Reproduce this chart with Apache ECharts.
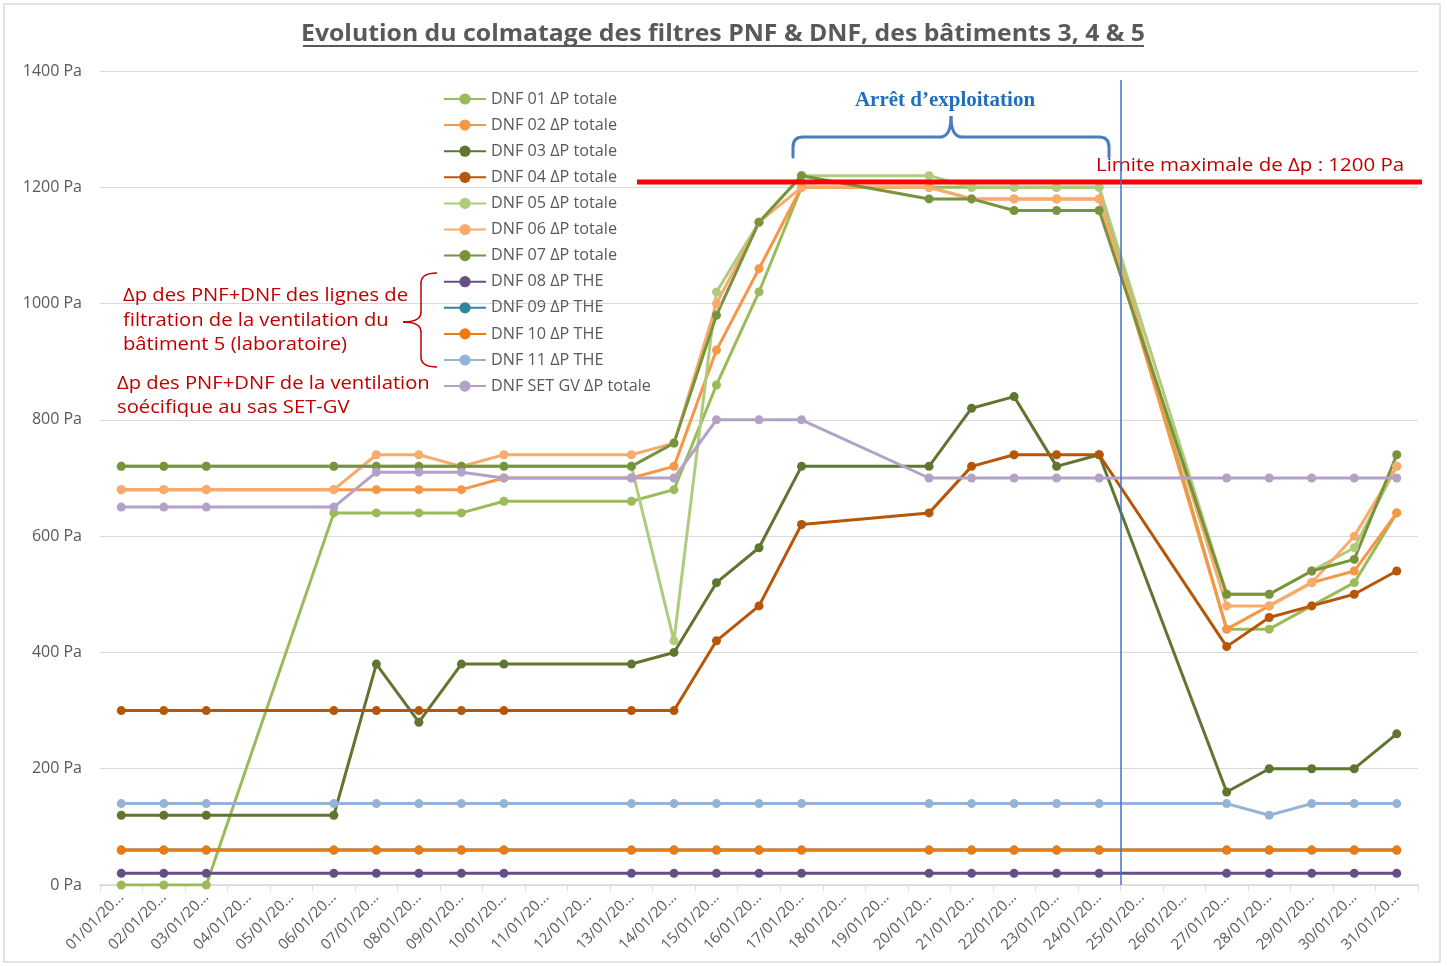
<!DOCTYPE html>
<html>
<head>
<meta charset="utf-8">
<script src="https://cdn.jsdelivr.net/npm/echarts@6/dist/echarts.min.js"></script>
<style>
html,body{margin:0;padding:0;background:#fff;}
#chart{width:1447px;height:966px;}
</style>
</head>
<body>
<div id="chart"></div>
<script>
const categories = ["01/01/20...","02/01/20...","03/01/20...","04/01/20...","05/01/20...","06/01/20...","07/01/20...","08/01/20...","09/01/20...","10/01/20...","11/01/20...","12/01/20...","13/01/20...","14/01/20...","15/01/20...","16/01/20...","17/01/20...","18/01/20...","19/01/20...","20/01/20...","21/01/20...","22/01/20...","23/01/20...","24/01/20...","25/01/20...","26/01/20...","27/01/20...","28/01/20...","29/01/20...","30/01/20...","31/01/20..."];
const n = null;
const dnf01 = [0,0,0,n,n,640,640,640,640,660,n,n,660,680,860,1020,1200,n,n,1200,1200,1200,1200,1200,n,n,440,440,480,520,640];
const dnf02 = [680,680,680,n,n,680,680,680,680,700,n,n,700,720,920,1060,1200,n,n,1200,1180,1180,1180,1180,n,n,440,480,520,540,640];
const dnf03 = [120,120,120,n,n,120,380,280,380,380,n,n,380,400,520,580,720,n,n,720,820,840,720,740,n,n,160,200,200,200,260];
const dnf04 = [300,300,300,n,n,300,300,300,300,300,n,n,300,300,420,480,620,n,n,640,720,740,740,740,n,n,410,460,480,500,540];
const dnf05 = [720,720,720,n,n,720,720,720,720,720,n,n,720,420,1020,1140,1220,n,n,1220,1200,1200,1200,1200,n,n,500,500,540,580,720];
const dnf06 = [680,680,680,n,n,680,740,740,720,740,n,n,740,760,1000,1140,1200,n,n,1200,1180,1180,1180,1180,n,n,480,480,520,600,720];
const dnf07 = [720,720,720,n,n,720,720,720,720,720,n,n,720,760,980,1140,1220,n,n,1180,1180,1160,1160,1160,n,n,500,500,540,560,740];
const dnf08 = [20,20,20,n,n,20,20,20,20,20,n,n,20,20,20,20,20,n,n,20,20,20,20,20,n,n,20,20,20,20,20];
const dnf09 = [60,60,60,n,n,60,60,60,60,60,n,n,60,60,60,60,60,n,n,60,60,60,60,60,n,n,60,60,60,60,60];
const dnf10 = [60,60,60,n,n,60,60,60,60,60,n,n,60,60,60,60,60,n,n,60,60,60,60,60,n,n,60,60,60,60,60];
const dnf11 = [140,140,140,n,n,140,140,140,140,140,n,n,140,140,140,140,140,n,n,140,140,140,140,140,n,n,140,120,140,140,140];
const setgv = [650,650,650,n,n,650,710,710,710,700,n,n,700,700,800,800,800,n,n,700,700,700,700,700,n,n,700,700,700,700,700];

const seriesNames = ["DNF 01 ΔP totale","DNF 02 ΔP totale","DNF 03 ΔP totale","DNF 04 ΔP totale","DNF 05 ΔP totale","DNF 06 ΔP totale","DNF 07 ΔP totale","DNF 08 ΔP THE","DNF 09 ΔP THE","DNF 10 ΔP THE","DNF 11 ΔP THE","DNF SET GV ΔP totale"];
const seriesData = [dnf01,dnf02,dnf03,dnf04,dnf05,dnf06,dnf07,dnf08,dnf09,dnf10,dnf11,setgv];
const seriesColors = ["#9BBB59","#F79646","#5F7530","#B65708","#AFCB7D","#F9AB6D","#77933C","#664F85","#31859C","#F07A0E","#95B3D7","#B3A2C7"];
const yTicks = {min:0, max:1400, interval:200};

const FONT = "Open Sans";
const TXT = "#595959";
const RED = "#C00000";

const chart = echarts.init(document.getElementById('chart'), null, {renderer:'canvas'});
const series = seriesNames.map((name,i)=>({
  name, type:'line', data: seriesData[i], connectNulls:true,
  symbol:'circle', symbolSize:9, showSymbol:true,
  lineStyle:{width:3, color:seriesColors[i]},
  itemStyle:{color:seriesColors[i]},
  emphasis:{disabled:true}
}));

function seg(x1,y1,x2,y2,color,w){return {type:'line', shape:{x1,y1,x2,y2}, style:{stroke:color, lineWidth:w, lineCap:'round'}, z:10};}
function curve(x1,y1,cx,cy,x2,y2,color,w){return {type:'bezierCurve', shape:{x1,y1,x2,y2,cpx1:cx,cpy1:cy}, style:{stroke:color, fill:null, lineWidth:w}, z:10};}
function txt(x,y,text,font,fill,sx,align){return {type:'text', x, y, scaleX:sx, style:{text, font, fill, textAlign:align||'left', textVerticalAlign:'middle'}, z:10};}
const BLUE = '#4A7EBB';
const braces = [
  seg(793,157,793,147,BLUE,3), curve(793,147,793,137,803,137,BLUE,3), seg(803,137,940,137,BLUE,3),
  curve(940,137,951,137,951,116,BLUE,3), curve(951,116,951,137,962,137,BLUE,3), seg(962,137,1099,137,BLUE,3),
  curve(1099,137,1109,137,1109,147,BLUE,3), seg(1109,147,1109,157,BLUE,3),
  curve(437,273,421,273,421,283,RED,1.5), seg(421,283,421,312,RED,1.5), curve(421,312,421,322,403,322,RED,1.5),
  curve(403,322,421,322,421,332,RED,1.5), seg(421,332,421,357,RED,1.5), curve(421,357,421,367,437,367,RED,1.5)
];
const RF = '17.5px "Open Sans"';

chart.setOption({
  animation:false,
  textStyle:{fontFamily:FONT},
  grid:{left:100, right:29, top:71, bottom:81, containLabel:false},
  legend:{
    orient:'vertical', left:438, top:86, itemWidth:42, itemHeight:14, itemGap:10.1,
    textStyle:{fontSize:16.2, color:TXT, fontFamily:FONT},
    data: seriesNames
  },
  xAxis:{
    type:'category', data:categories, boundaryGap:true,
    axisLine:{lineStyle:{color:'#D9D9D9', width:1.5}},
    axisTick:{show:true, length:6, lineStyle:{color:'#D9D9D9'}},
    axisLabel:{rotate:45, fontSize:15, color:TXT, margin:10, interval:0, fontFamily:FONT}
  },
  yAxis:{
    type:'value', min:yTicks.min, max:yTicks.max, interval:yTicks.interval,
    axisLine:{show:false}, axisTick:{show:false},
    axisLabel:{formatter:(v)=>v+' Pa', fontSize:16, color:TXT, margin:18, fontFamily:FONT},
    splitLine:{lineStyle:{color:'#D9D9D9', width:1}}
  },
  series,
  graphic:[
    {type:'rect', shape:{x:4,y:4,width:1436,height:958}, style:{fill:null, stroke:'#D9D9D9', lineWidth:1.5}, z:-1},
    txt(723,34,'Evolution du colmatage des filtres PNF & DNF, des bâtiments 3, 4 & 5','bold 23px "Open Sans"',TXT,1.078,'center'),
    {type:'line', shape:{x1:303,y1:46,x2:1144,y2:46}, style:{stroke:TXT, lineWidth:1.8}},
    {type:'line', shape:{x1:637,y1:182,x2:1422,y2:182}, style:{stroke:'#FF0000', lineWidth:5}, z:10},
    txt(1096,166,'Limite maximale de Δp : 1200 Pa',RF,RED,1.17),
    {type:'line', shape:{x1:1121,y1:80,x2:1121,y2:885}, style:{stroke:'#4472C4', lineWidth:1.5}, z:10},
    txt(945,101,'Arrêt d’exploitation','bold 21px "Liberation Serif"','#1F6FC0',1,'center'),
    ...braces,
    txt(123,296,'Δp des PNF+DNF des lignes de',RF,RED,1.155),
    txt(123,321,'filtration de la ventilation du',RF,RED,1.155),
    txt(123,345,'bâtiment 5 (laboratoire)',RF,RED,1.155),
    txt(117,384,'Δp des PNF+DNF de la ventilation',RF,RED,1.155),
    txt(117,408,'soécifique au sas SET-GV',RF,RED,1.155)
  ]
});
</script>
</body>
</html>
